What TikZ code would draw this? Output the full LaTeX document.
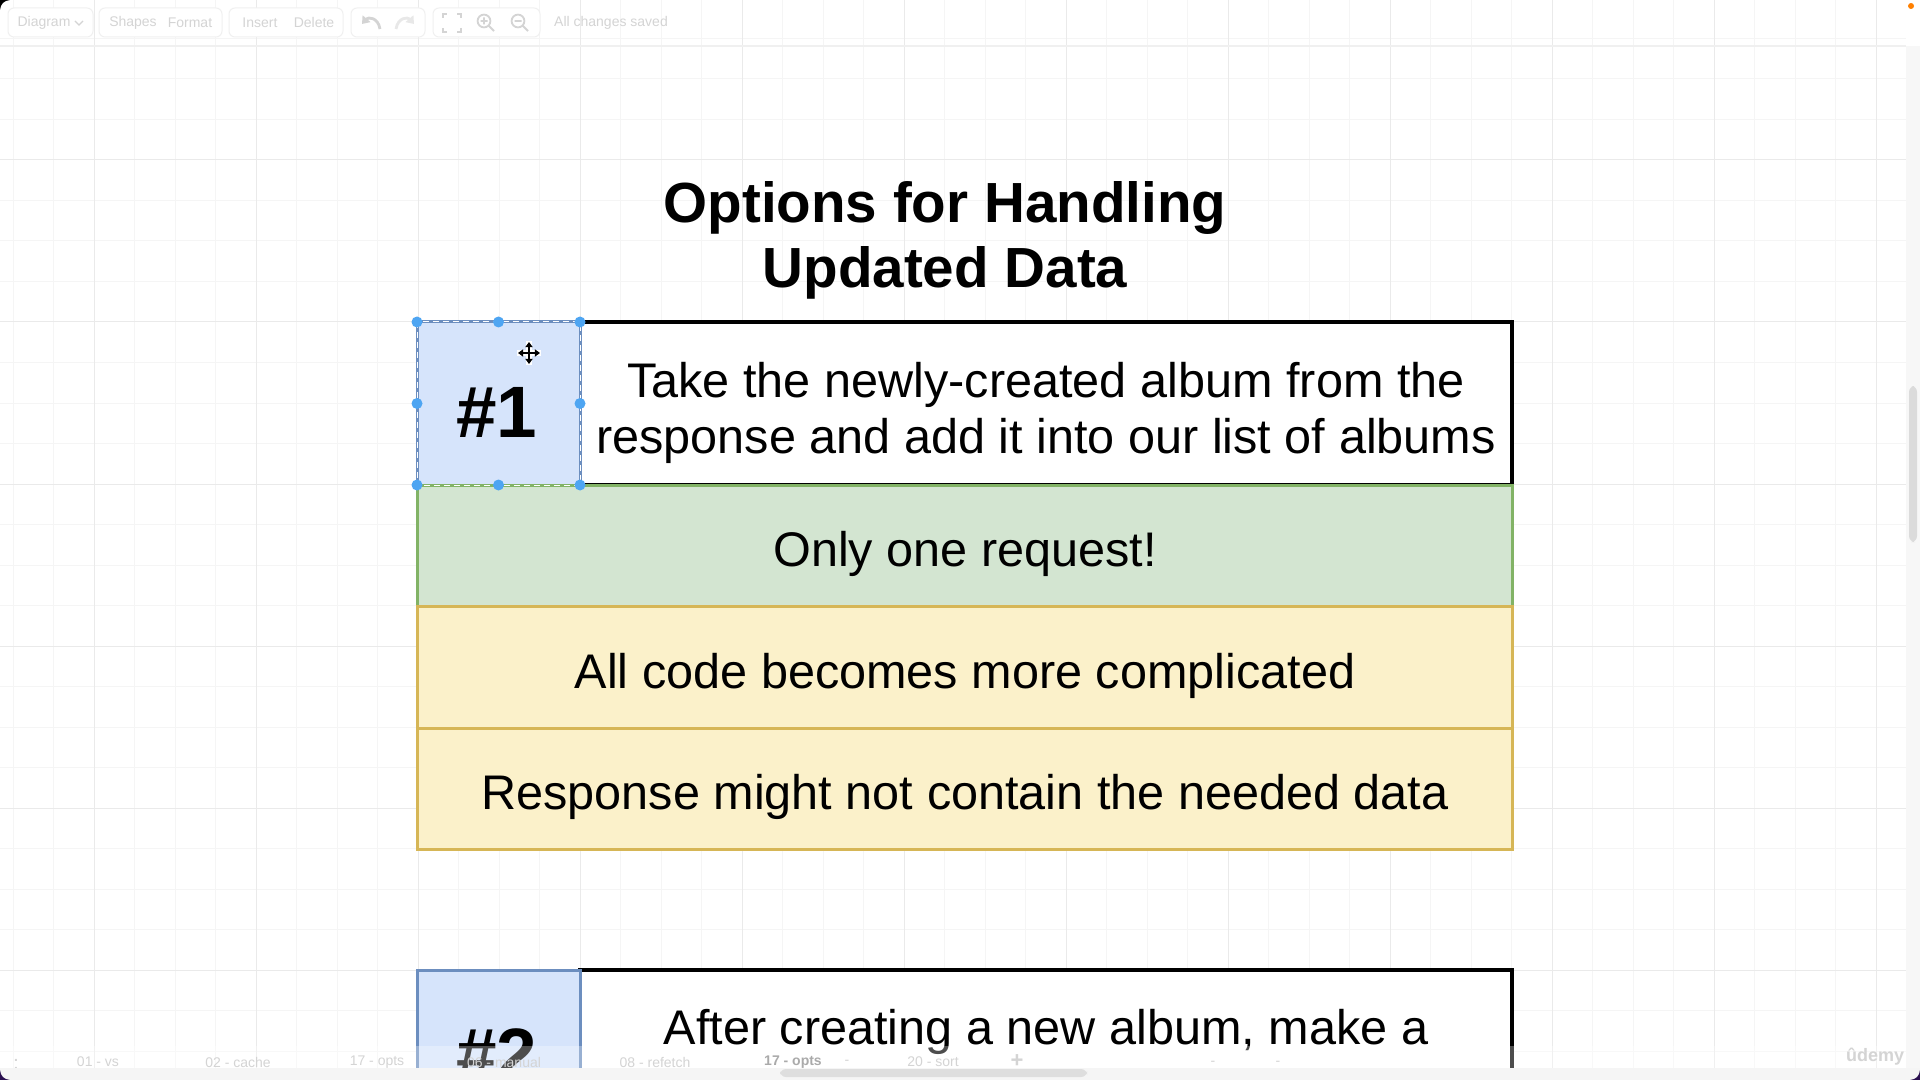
\documentclass[tikz,border=0pt]{standalone}
\usepackage{fontspec}
\setmainfont{Liberation Sans}
\usetikzlibrary{arrows.meta}
\definecolor{gminor}{HTML}{F5F5F5}
\definecolor{gmajor}{HTML}{EAEAEA}
\definecolor{bluefill}{HTML}{D6E4FB}
\definecolor{blueline}{HTML}{6C8EBF}
\definecolor{greenfill}{HTML}{D3E5D1}
\definecolor{greenline}{HTML}{82B366}
\definecolor{yelfill}{HTML}{FBF1CA}
\definecolor{yelline}{HTML}{D6B656}
\definecolor{handlec}{HTML}{4EA5F2}
\definecolor{uigray}{HTML}{D4D4D4}
\definecolor{uiline}{HTML}{F0F0F0}
\definecolor{cornerc}{HTML}{2A1050}
\tikzset{
  shapebox/.style={rectangle, inner sep=0pt, outer sep=0pt},
  whitebox/.style={shapebox, draw=black, line width=2pt, fill=white},
  bluebox/.style={shapebox, draw=blueline, line width=1.5pt, fill=bluefill},
  greenbox/.style={shapebox, draw=greenline, line width=1.5pt, fill=greenfill},
  yelbox/.style={shapebox, draw=yelline, line width=1.5pt, fill=yelfill},
  bodytext/.style={inner sep=0pt, align=center, font=\fontsize{24.3pt}{28pt}\selectfont},
  numtext/.style={inner sep=0pt, font=\fontsize{36.4pt}{40pt}\selectfont\bfseries},
  titletext/.style={inner sep=0pt, align=center, font=\fontsize{28.3pt}{32.5pt}\selectfont\bfseries},
  uitext/.style={inner sep=0pt, text=uigray, font=\fontsize{7pt}{8pt}\selectfont},
  uigroup/.style={draw=uiline, fill=white, rounded corners=3pt, line width=0.5pt},
  handle/.style={fill=handlec},
}
\begin{document}
\begin{tikzpicture}[x=0.5pt,y=-0.5pt]
\useasboundingbox (0,0) rectangle (1920,1080);
\fill[white] (0,0) rectangle (1920,1080);
% grid
\foreach \k in {0,...,46}{
  \pgfmathsetmacro\xx{13+\k*40.5}
  \draw[gminor, line width=0.5pt] (\xx,0) -- (\xx,1068);
}
\foreach \k in {0,...,25}{
  \pgfmathsetmacro\yy{38.5+\k*40.5}
  \draw[gminor, line width=0.5pt] (0,\yy) -- (1906,\yy);
}
\foreach \k in {2,6,...,46}{
  \pgfmathsetmacro\xx{13+\k*40.5}
  \draw[gmajor, line width=0.5pt] (\xx,0) -- (\xx,1068);
}
\foreach \k in {3,7,...,25}{
  \pgfmathsetmacro\yy{38.5+\k*40.5}
  \draw[gmajor, line width=0.5pt] (0,\yy) -- (1906,\yy);
}
% toolbar
\draw[uiline, line width=0.6pt] (0,46) -- (1906,46);
\draw[uigroup] (8,8) rectangle (93,37);
\draw[uigroup] (99,8) rectangle (222,37);
\draw[uigroup] (229,8) rectangle (343,37);
\draw[uigroup] (351,8) rectangle (425,37);
\draw[uigroup] (433,8) rectangle (540,37);
\node[uitext] (tbdiagram) at (44,23) {Diagram};
\draw[uigray, line width=0.6pt] (75,21) -- (79,25) -- (83,21);
\node[uitext] (tbshapes) at (133,23) {Shapes};
\node[uitext] (tbformat) at (190,23) {Format};
\node[uitext] (tbinsert) at (260,23) {Insert};
\node[uitext] (tbdelete) at (314,23) {Delete};
\draw[uigray, line width=1.4pt, -{Triangle[length=3.5pt,width=5pt]}] (380,29) .. controls (378,17) and (368,17) .. (362,24);
\draw[gminor!60!uigray, line width=1.4pt, -{Triangle[length=3.5pt,width=5pt]}] (396,29) .. controls (398,17) and (408,17) .. (414,24);
\draw[uigray, line width=0.9pt] (443,18) -- (443,14) -- (447,14) (457,14) -- (461,14) -- (461,18) (461,28) -- (461,32) -- (457,32) (447,32) -- (443,32) -- (443,28);
\draw[uigray, line width=0.9pt] (484,21) circle (3.2pt) (488.5,25.5) -- (494,31) (480.5,21) -- (487.5,21) (484,17.5) -- (484,24.5);
\draw[uigray, line width=0.9pt] (518,21) circle (3.2pt) (522.5,25.5) -- (528,31) (514.5,21) -- (521.5,21);
\node[uitext] (tbsaved) at (611,23) {All changes saved};
% right scrollbar
\fill[white!97!black] (1906,46) rectangle (1920,1068);
\fill[white!86!black, rounded corners=3pt] (1909,386) rectangle (1917,542);
% title
\node[titletext] (title) at (945,240) {Options for Handling\\Updated Data};
% option 1
\node[whitebox, minimum width=466pt, minimum height=81.5pt] (r1) at (1046,403.5) {};
\node[bluebox, minimum width=81.5pt, minimum height=81.5pt] (b1) at (498.5,403.5) {};
\node[greenbox, minimum width=547.5pt, minimum height=60.75pt] (g1) at (964.5,545.75) {};
\node[yelbox, minimum width=547.5pt, minimum height=60.75pt] (y1) at (964.5,667.25) {};
\node[yelbox, minimum width=547.5pt, minimum height=60.75pt] (y2) at (964.5,788.75) {};
\draw[white, line width=0.5pt, dash pattern=on 3pt off 2pt] (b1.north west) rectangle (b1.south east);
\node[numtext] (n1) at (497,412) {\#1};
\node[bodytext] (t1) at (1046,413) {Take the newly-created album from the\\response and add it into our list of albums};
\node[bodytext] (tg) at (965,554) {Only one request!};
\node[bodytext] (ty1) at (965,676) {All code becomes more complicated};
\node[bodytext] (ty2) at (965,797) {Response might not contain the needed data};
% selection handles
\foreach \p in {north west,north,north east,west,east,south west,south,south east}{
  \fill[handle] (b1.\p) circle (2.75pt);
}
% move cursor
\coordinate (cur) at (529,353);
\draw[white, line width=2.6pt] ([xshift=-6pt]cur) -- ([xshift=6pt]cur) ([yshift=-6pt]cur) -- ([yshift=6pt]cur);
\draw[black, line width=0.9pt, {Triangle[length=2.6pt,width=3.6pt]}-{Triangle[length=2.6pt,width=3.6pt]}] ([xshift=-5.5pt]cur) -- ([xshift=5.5pt]cur);
\draw[black, line width=0.9pt, {Triangle[length=2.6pt,width=3.6pt]}-{Triangle[length=2.6pt,width=3.6pt]}] ([yshift=-5.5pt]cur) -- ([yshift=5.5pt]cur);
% option 2 (cut off)
\node[whitebox, minimum width=466pt, minimum height=81pt] (r2) at (1046,1051) {};
\node[bluebox, minimum width=81.5pt, minimum height=81pt] (b2) at (498.5,1051) {};
\node[numtext] (n2) at (497,1054) {\#2};
\node[bodytext] (t2) at (1046,1032) {After creating a new album, make a};
% bottom tab bar
\fill[white, opacity=0.3] (0,1046) rectangle (1906,1068);
\node[uitext] (tbdots) at (16,1062) {\textbf{\vdots}};
\node[uitext] (tab1) at (98,1062) {01 - vs};
\node[uitext] (tab2) at (238,1062) {02 - cache};
\node[uitext] (tab3) at (377,1062) {17 - opts};
\node[uitext] (tab4) at (504,1062) {06 - manual};
\node[uitext] (tab5) at (655,1062) {08 - refetch};
\node[uitext, text=uigray!80!black] (tab6) at (793,1062) {\bfseries 17 - opts};
\node[uitext] (tab7) at (847,1062) {-};
\node[uitext] (tab8) at (933,1062) {20 - sort};
\node[uitext, font=\fontsize{11pt}{12pt}\selectfont\bfseries] (tabplus) at (1017,1061) {+};
\node[uitext] (tab9) at (1213,1063) {-};
\node[uitext] (tab10) at (1278,1063) {-};
\fill[white!96!black] (0,1068) rectangle (1920,1080);
\fill[white!87!black, rounded corners=3pt] (780,1069) rectangle (1087,1077);
\node[inner sep=0pt, text=white!83!black, font=\fontsize{9pt}{10pt}\selectfont\bfseries] (udemy) at (1875,1057) {ûdemy};
% screen corners
\fill[black] (0,0) -- (10,0) .. controls (4,0.5) and (0.5,4) .. (0,10) -- cycle;
\fill[cornerc] (0,1080) -- (0,1070) .. controls (0.5,1076) and (4,1079.5) .. (10,1080) -- cycle;
\fill[cornerc] (1920,1080) -- (1920,1070) .. controls (1919.5,1076) and (1916,1079.5) .. (1910,1080) -- cycle;
\fill[orange] (1911,6) circle (1.5pt);
\end{tikzpicture}
\end{document}
